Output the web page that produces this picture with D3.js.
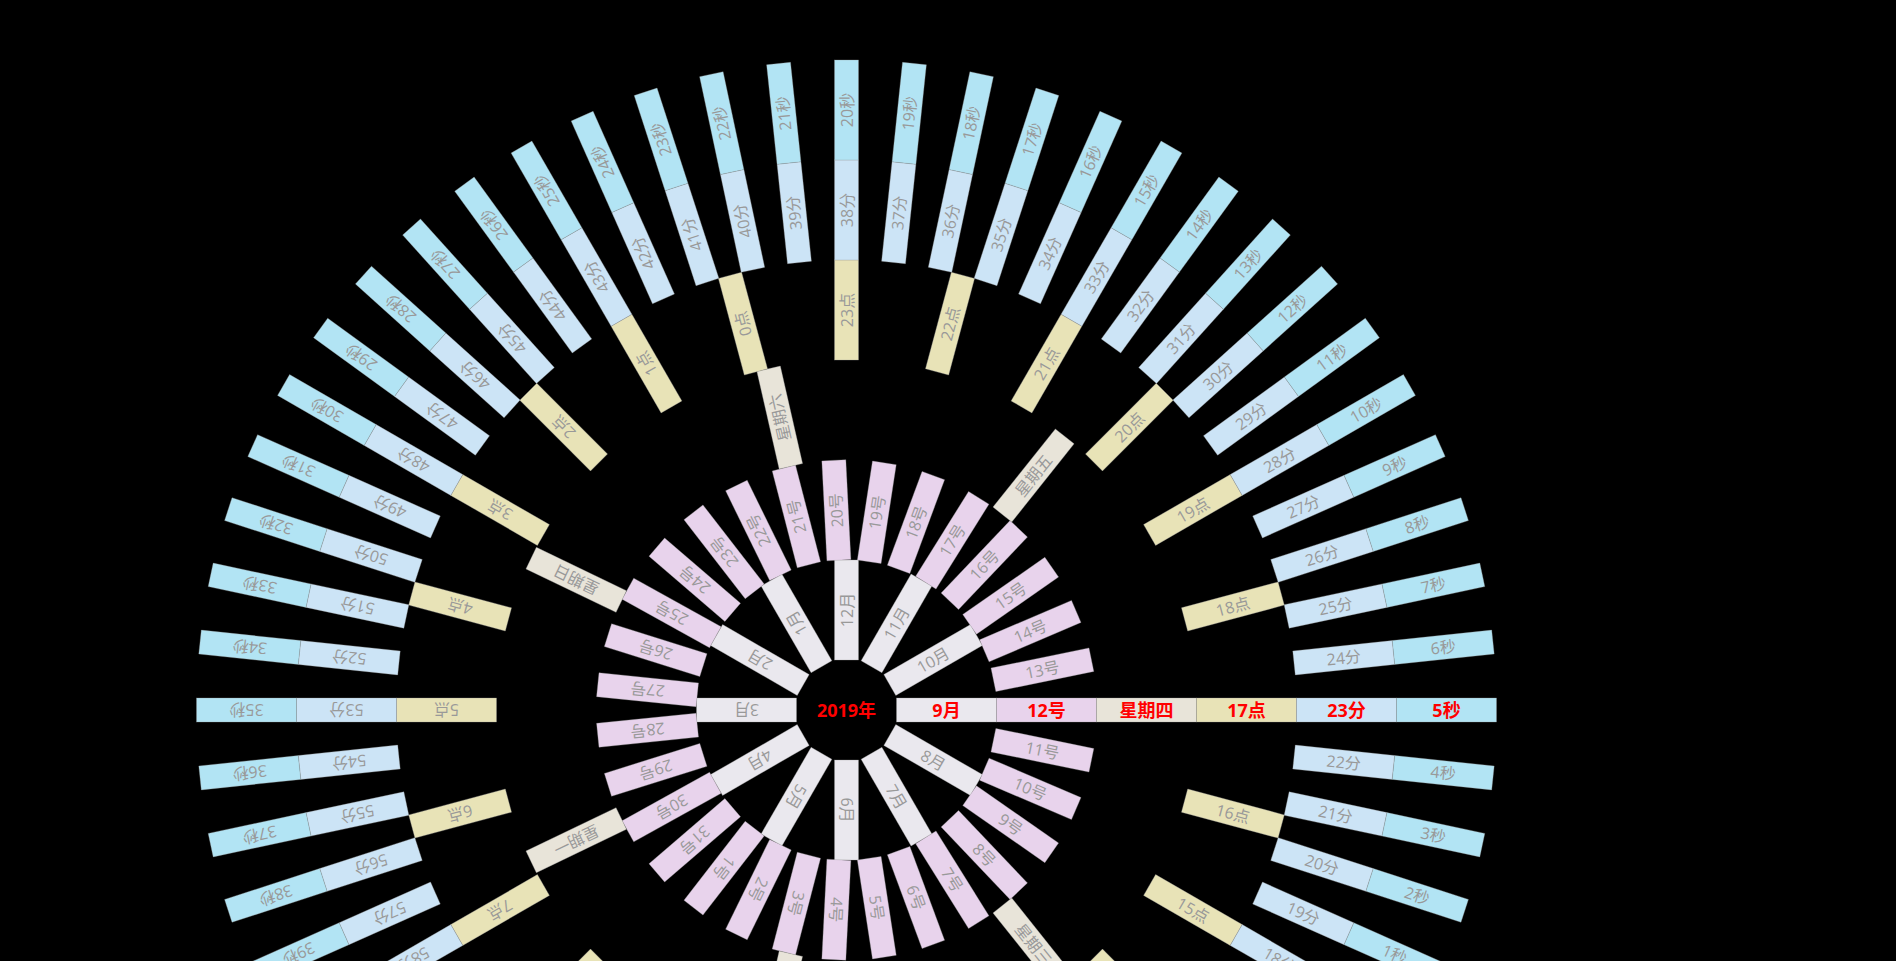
<!DOCTYPE html>
<html>
<head>
<meta charset="utf-8">
<script src="https://cdn.jsdelivr.net/npm/d3@7"></script>
<style>
  body { margin: 0; background: #000; overflow: hidden; }
  text { font-family: "Open Sans", "Noto Sans CJK SC", sans-serif; }
</style>
</head>
<body>
<script>
//clock labels, one list per ring
let years = ["2019年"];
let months = ["1月", "2月", "3月", "4月", "5月", "6月", "7月", "8月", "9月", "10月", "11月", "12月"];
let days = ["1号", "2号", "3号", "4号", "5号", "6号", "7号", "8号", "9号", "10号",
  "11号", "12号", "13号", "14号", "15号", "16号", "17号", "18号", "19号", "20号",
  "21号", "22号", "23号", "24号", "25号", "26号", "27号", "28号", "29号", "30号", "31号"];
let weekdays = ["星期一", "星期二", "星期三", "星期四", "星期五", "星期六", "星期日"];
let hours = ["0点", "1点", "2点", "3点", "4点", "5点", "6点", "7点", "8点", "9点", "10点", "11点",
  "12点", "13点", "14点", "15点", "16点", "17点", "18点", "19点", "20点", "21点", "22点", "23点"];
let minutes = ["0分", "1分", "2分", "3分", "4分", "5分", "6分", "7分", "8分", "9分",
  "10分", "11分", "12分", "13分", "14分", "15分", "16分", "17分", "18分", "19分",
  "20分", "21分", "22分", "23分", "24分", "25分", "26分", "27分", "28分", "29分",
  "30分", "31分", "32分", "33分", "34分", "35分", "36分", "37分", "38分", "39分",
  "40分", "41分", "42分", "43分", "44分", "45分", "46分", "47分", "48分", "49分",
  "50分", "51分", "52分", "53分", "54分", "55分", "56分", "57分", "58分", "59分"];
let seconds = ["0秒", "1秒", "2秒", "3秒", "4秒", "5秒", "6秒", "7秒", "8秒", "9秒",
  "10秒", "11秒", "12秒", "13秒", "14秒", "15秒", "16秒", "17秒", "18秒", "19秒",
  "20秒", "21秒", "22秒", "23秒", "24秒", "25秒", "26秒", "27秒", "28秒", "29秒",
  "30秒", "31秒", "32秒", "33秒", "34秒", "35秒", "36秒", "37秒", "38秒", "39秒",
  "40秒", "41秒", "42秒", "43秒", "44秒", "45秒", "46秒", "47秒", "48秒", "49秒",
  "50秒", "51秒", "52秒", "53秒", "54秒", "55秒", "56秒", "57秒", "58秒", "59秒"];

//the current moment, drawn in red along the right
let current = ["9月", "12号", "星期四", "17点", "23分", "5秒"];

let ringNames = ["month", "day", "weekday", "hour", "minute", "second"];
let ringLabels = [months, days, weekdays, hours, minutes, seconds];
let ringColors = ["#eae8ee", "#e8d3ec", "#e8e4d9", "#e8e3b7", "#cce4f6", "#b2e4f4"];

let width = 1896;
let height = 961;
let cx = 846.5;
let cy = 710;
let barWidth = 24;

const svg = d3.
select("body").
append("svg").
attr("width", width).
attr("height", height);

let rScale = d3.
scaleBand().
domain(ringNames).
range([50, 650]);

let colorScale = d3.
scaleOrdinal().
domain(ringNames).
range(ringColors);

let chart = svg.append("g").
attr("transform", "translate(" + cx + "," + cy + ")");

ringNames.forEach((name, k) => {
  let labels = ringLabels[k];
  let now = labels.indexOf(current[k]);
  //rotate each ring so the current value points right, counting up anticlockwise
  let angle = d3.scaleLinear().domain([0, labels.length]).range([0, 360]);
  let len = rScale.bandwidth();

  let cell = chart.append("g").
  attr("class", "ring-" + name).
  selectAll("g").
  data(labels).
  enter().
  append("g").
  attr("transform", (d, i) => "rotate(" + -angle(i - now) + ") translate(" + (rScale(name) + len / 2) + ",0)");

  cell.append("rect").
  attr("x", -len / 2).
  attr("y", -barWidth / 2).
  attr("width", len).
  attr("height", barWidth).
  attr("fill", colorScale(name)).
  attr("stroke", "#9a9a9a").
  attr("stroke-opacity", 0.5).
  attr("stroke-width", 0.6);

  cell.append("text").
  attr("text-anchor", "middle").
  attr("dominant-baseline", "central").
  attr("fill", d => d == current[k] ? "#ff0000" : "#999999").
  attr("font-weight", d => d == current[k] ? "bold" : "normal").
  attr("font-size", d => d == current[k] ? "18px" : "16px").
  text(d => d);
});

chart.append("text").
attr("text-anchor", "middle").
attr("dominant-baseline", "central").
attr("fill", "#ff0000").
attr("font-weight", "bold").
attr("font-size", "18px").
text(years[0]);
</script>
</body>
</html>
